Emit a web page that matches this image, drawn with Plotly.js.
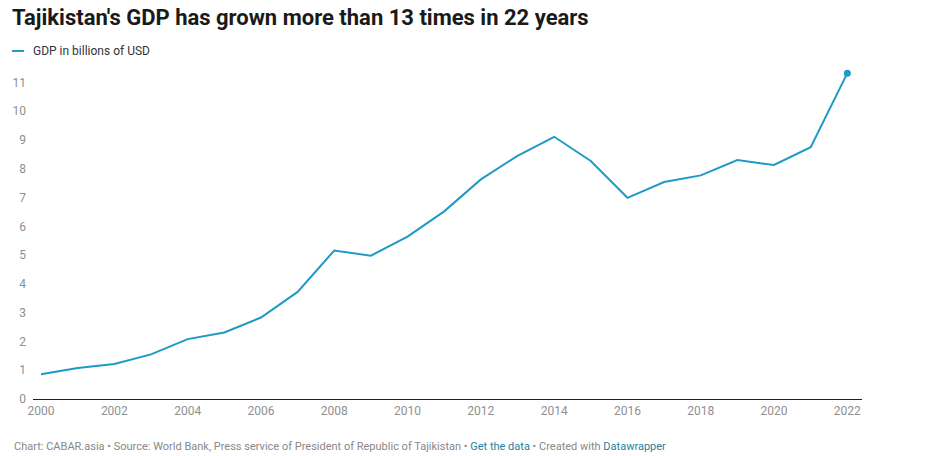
<!DOCTYPE html>
<html>
<head>
<meta charset="utf-8">
<script src="https://cdn.plot.ly/plotly-3.0.1.min.js"></script>
<style>
html,body{margin:0;padding:0;background:#fff;}
#chart{width:930px;height:456px;}
</style>
</head>
<body>
<div id="chart"></div>
<script>
const years = [2000,2001,2002,2003,2004,2005,2006,2007,2008,2009,2010,2011,2012,2013,2014,2015,2016,2017,2018,2019,2020,2021,2022];
const gdp = [0.86,1.08,1.22,1.55,2.08,2.31,2.83,3.72,5.16,4.98,5.64,6.52,7.63,8.45,9.11,8.27,6.99,7.54,7.77,8.30,8.13,8.75,11.32];
const xTicks = [2000,2002,2004,2006,2008,2010,2012,2014,2016,2018,2020,2022];
const yTicks = [0,1,2,3,4,5,6,7,8,9,10,11];
const seriesName = "GDP in billions of USD";
const lineColor = "#1f9ac6";

const traces = [
  {x: years, y: gdp, type: "scatter", mode: "lines", name: seriesName,
   line: {color: lineColor, width: 2}, hoverinfo: "x+y"},
  {x: years.slice(-1), y: gdp.slice(-1), type: "scatter", mode: "markers", showlegend: false,
   marker: {color: lineColor, size: 7}, hoverinfo: "x+y"}
];

const layout = {
  width: 930, height: 456,
  margin: {l: 33, r: 68, t: 68, b: 57},
  paper_bgcolor: "#fff", plot_bgcolor: "#fff",
  font: {family: "Roboto, sans-serif", color: "#333"},
  showlegend: false,
  title: {text: "Tajikistan's GDP has grown more than 13 times in 22 years",
          font: {family: "Roboto, sans-serif", size: 22, weight: 700, color: "#1a1a1a"},
          x: 0, xref: "paper", xanchor: "left", y: 0.98, yref: "container", yanchor: "top",
          pad: {l: -21}},
  xaxis: {range: [1999.78, 2022.4], tickvals: xTicks, ticktext: xTicks.map(String),
          showgrid: false, zeroline: false, showline: false, ticks: "", ticklabelstandoff: 3,
          tickfont: {size: 12, color: "#8f8f8f"}, fixedrange: true},
  yaxis: {range: [0, 11.5], tickvals: yTicks, ticktext: yTicks.map(String),
          showgrid: false, zeroline: true, zerolinecolor: "#222", zerolinewidth: 1.3,
          showline: false, ticks: "", ticklabelstandoff: 6,
          tickfont: {size: 12, color: "#8f8f8f"}, fixedrange: true},
  shapes: [
    {type: "line", xref: "paper", yref: "paper", x0: -0.0254, x1: -0.0109, y0: 1.0514, y1: 1.0514,
     line: {color: lineColor, width: 2}}
  ],
  annotations: [
    {text: seriesName, xref: "paper", yref: "paper", x: -0.003, y: 1.0514, xanchor: "left", yanchor: "middle",
     showarrow: false, font: {size: 12, color: "#333"}},
    {text: "Chart: CABAR.asia • Source: World Bank, Press service of President of Republic of Tajikistan • <span style='color:#1d81a2'>Get the data</span> • Created with <span style='color:#1d81a2'>Datawrapper</span>",
     xref: "paper", yref: "paper", x: -0.0254, y: -0.142, xanchor: "left", yanchor: "middle",
     showarrow: false, font: {size: 11, color: "#888"}}
  ]
};

Plotly.newPlot("chart", traces, layout, {displayModeBar: false, staticPlot: false});
</script>
</body>
</html>
